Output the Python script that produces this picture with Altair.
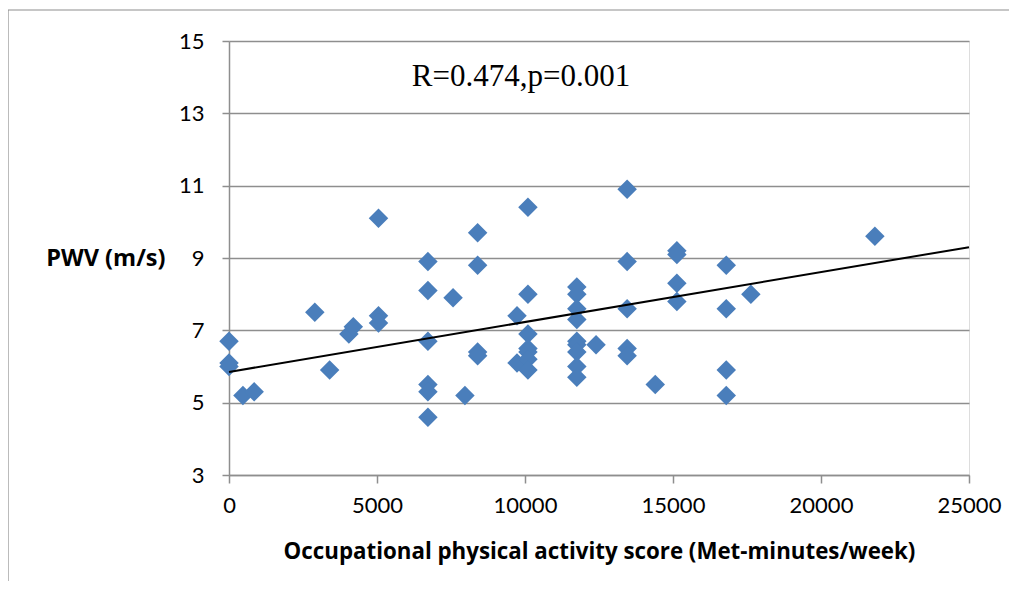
import altair as alt
import pandas as pd

# Scatter data (Met-minutes/week, PWV m/s)
activity = [0, 0, 0, 470, 850, 2900, 3400, 4050, 4200,
            5050, 5050, 5050,
            6720, 6720, 6720, 6720, 6720, 6720,
            7570, 7970,
            8400, 8400, 8400, 8400,
            9730, 9730,
            10100, 10100, 10100, 10100, 10100, 10100, 10100,
            11750, 11750, 11750, 11750, 11750, 11750, 11750, 11750, 11750,
            12400,
            13450, 13450, 13450, 13450, 13450,
            14400,
            15130, 15130, 15130, 15130,
            16800, 16800, 16800, 16800,
            17630, 21820]
pwv = [6.7, 6.1, 6.0, 5.2, 5.3, 7.5, 5.9, 6.9, 7.1,
       10.1, 7.4, 7.2,
       8.9, 8.1, 6.7, 5.5, 5.3, 4.6,
       7.9, 5.2,
       9.7, 8.8, 6.4, 6.3,
       7.4, 6.1,
       10.4, 8.0, 6.9, 6.5, 6.4, 6.2, 5.9,
       8.2, 8.0, 7.6, 7.3, 6.7, 6.6, 6.4, 6.0, 5.7,
       6.6,
       10.9, 8.9, 7.6, 6.5, 6.3,
       5.5,
       9.2, 9.1, 8.3, 7.8,
       8.8, 7.6, 5.9, 5.2,
       8.0, 9.6]

# Linear trend line endpoints
trend_x = [0, 25000]
trend_y = [5.85, 9.3]

x_ticks = [0, 5000, 10000, 15000, 20000, 25000]
y_ticks = [3, 5, 7, 9, 11, 13, 15]
annotation = "R=0.474,p=0.001"

pts = pd.DataFrame({"x": activity, "y": pwv})
trend = pd.DataFrame({"x": trend_x, "y": trend_y})

GRID = "#8E8E8E"

xscale = alt.Scale(domain=[0, 25000], nice=False, zero=False)
yscale = alt.Scale(domain=[3, 15], nice=False, zero=False)

xaxis = alt.Axis(values=x_ticks, format="d", grid=False, domainColor=GRID, domainWidth=1.5,
                 tickColor=GRID, tickWidth=1.5, tickSize=8, labelFont="Lato",
                 labelFontSize=22, labelColor="black", labelPadding=12,
                 labelFlush=False, labelOverlap=False,
                 title="Occupational physical activity score (Met-minutes/week)",
                 titleFont="Open Sans", titleFontSize=22.3, titleFontWeight="bold",
                 titleColor="black", titleBaseline="middle", titleY=76)
yaxis = alt.Axis(values=y_ticks, format="d", grid=True, gridColor=GRID, gridWidth=1.5,
                 domainColor=GRID, domainWidth=1.5, tickColor=GRID, tickWidth=1.5,
                 tickSize=7, labelFont="Lato", labelFontSize=22, labelColor="black",
                 labelPadding=18, labelFlush=False, labelOverlap=False,
                 title="PWV (m/s)", titleFont="Open Sans", titleFontSize=23.5,
                 titleFontWeight="bold", titleColor="black", titleAngle=0,
                 titleAlign="right", titleBaseline="middle", titleX=-64, titleY=217)

points = alt.Chart(pts).mark_point(shape="diamond", filled=True, size=380,
                                   color="#4A7EBB", opacity=1).encode(
    x=alt.X("x:Q", scale=xscale, axis=xaxis),
    y=alt.Y("y:Q", scale=yscale, axis=yaxis),
)

line = alt.Chart(trend).mark_line(color="black", strokeWidth=2).encode(
    x=alt.X("x:Q", scale=xscale),
    y=alt.Y("y:Q", scale=yscale),
)

label = alt.Chart(pd.DataFrame({"t": [annotation]})).mark_text(
    font="Liberation Serif", fontSize=31, color="black", align="center",
    baseline="middle").encode(
    text="t:N", x=alt.value(292), y=alt.value(36))

frame_top = alt.Chart(pd.DataFrame({"a": [0]})).mark_rule(
    color=GRID, strokeWidth=1.2).encode(
    x=alt.value(-221), x2=alt.value(790), y=alt.value(-31))
frame_left = alt.Chart(pd.DataFrame({"a": [0]})).mark_rule(
    color=GRID, strokeWidth=1.2).encode(
    x=alt.value(-221), y=alt.value(-31), y2=alt.value(600))

chart = alt.layer(frame_top, frame_left, points, line, label).properties(
    width=740, height=434,
    autosize=alt.AutoSizeParams(type="none"),
    padding={"left": 221, "top": 33, "right": 40, "bottom": 106},
).configure_view(stroke=None).configure(background="white")

chart.save("out.html", embed_options={"renderer": "svg", "actions": False})
